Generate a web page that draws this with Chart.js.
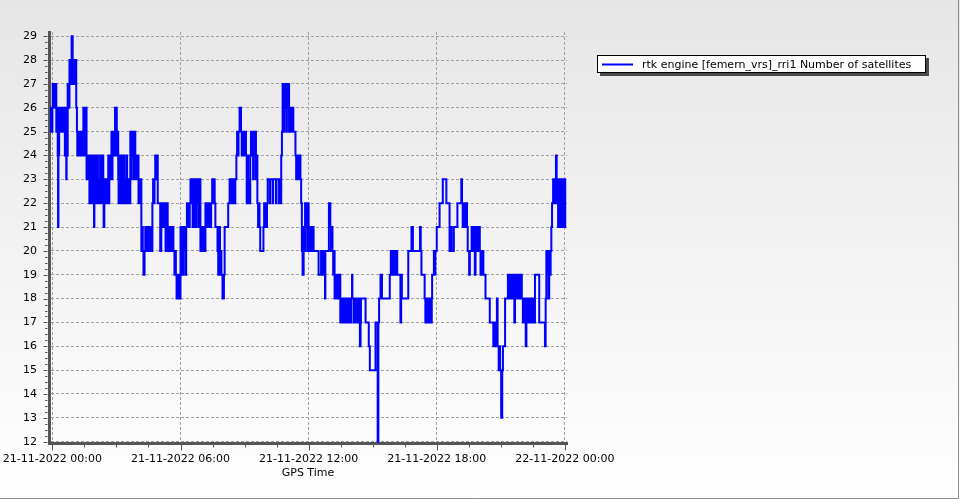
<!DOCTYPE html>
<html>
<head>
<meta charset="utf-8">
<script src="https://cdn.jsdelivr.net/npm/chart.js@4.4.0/dist/chart.umd.min.js"></script>
<style>
  html, body { margin: 0; padding: 0; background: #fff; }
  #wrap { width: 960px; height: 500px; }
</style>
</head>
<body>
<div id="wrap"><canvas id="graficoSatelites" width="960" height="500"></canvas></div>
<script>
const seriesLabel = 'rtk engine [femern_vrs]_rri1 Number of satellites';
const axisTitle = 'GPS Time';

// minutes from 21-11-2022 00:00
const xTickMinutes = [0, 360, 720, 1080, 1440];
const xTickLabels = ['21-11-2022 00:00', '21-11-2022 06:00', '21-11-2022 12:00', '21-11-2022 18:00', '22-11-2022 00:00'];
const yTicks = [12, 13, 14, 15, 16, 17, 18, 19, 20, 21, 22, 23, 24, 25, 26, 27, 28, 29];

// change points: minute of the change / satellites from then on
const gpsMinute = [
  -6, -4, -2, 0, 1, 3, 5, 7, 9, 11, 13, 14, 15, 16, 17, 19,
  21, 23, 25, 27, 29, 31, 33, 34, 35, 37, 38, 39, 40, 42,
  43, 44, 46, 47, 48, 49, 51, 52, 54, 57, 58, 60, 62, 64, 66, 67, 69,
  70, 72, 74, 76, 78, 80, 82, 84, 86, 87, 89, 90, 92, 94,
  96, 98, 99, 101, 103, 104, 106, 107, 109, 110, 112, 113, 115, 116, 117, 118,
  119, 121, 123, 125, 126, 128, 130, 132, 134, 136, 137, 139, 141, 143, 144, 146,
  148, 150, 152, 154, 156, 157, 159, 160, 162, 164, 166, 168, 169, 171, 172,
  174, 176, 178, 179, 181, 183, 185, 186, 188, 190, 192, 194,
  196, 198, 200, 202, 204, 206, 208, 210, 212, 214, 216, 218,
  219, 221, 223, 225, 227, 229, 231, 233, 234, 236, 238, 240, 242, 244, 246, 248,
  250, 252, 254, 256, 259, 261, 263, 265, 267, 269, 271, 273, 275, 277, 279,
  281, 283, 285, 287, 289, 292, 294, 296, 303,
  306, 308, 310, 312, 314, 316, 318, 320, 322,
  324, 326, 328, 330, 332, 334, 336, 338, 340, 343, 345, 347,
  349, 351, 353, 355, 357, 360, 362, 364, 366, 368, 370, 372, 374, 376,
  378, 380, 382, 384, 386, 388, 390, 392, 394, 396,
  398, 400, 402, 404, 406, 408, 410, 412, 414,
  416, 418, 420, 422, 424, 426, 428, 430, 432, 434,
  436, 438, 440, 442, 444, 446, 449, 451, 453, 456, 458,
  464, 466, 468, 469, 471, 473, 475, 478, 482, 484, 494,
  498, 500, 502, 504, 506, 508, 510, 512, 514,
  517, 519, 521, 523, 526, 530, 532, 534, 536, 538, 540, 542, 544,
  546, 548, 550, 552, 554, 556, 558, 560, 562, 564, 566, 568, 570, 572, 574,
  576, 578, 580, 582, 584, 593, 595, 597, 599, 601, 603,
  605, 611, 612, 619, 620, 628, 629, 636, 637, 642, 643, 645,
  647, 649, 651, 653, 655, 657, 659, 661, 663, 665, 667, 669, 671, 673, 675, 677,
  683, 685, 687, 689, 691, 693, 695, 697, 699, 701, 703, 706, 708,
  710, 712, 714, 716, 718, 720, 722, 725, 726, 729, 730, 733, 734,
  748, 755, 757, 761, 763, 766, 767, 777, 781, 783, 785, 787,
  789, 791, 793, 795, 797, 799, 801, 803, 805, 807,
  809, 811, 813, 815, 817, 819, 821, 823, 825, 827, 829, 831, 833, 835, 837, 839, 842, 843,
  846, 848, 850, 852, 854, 856, 858, 860, 862, 864, 866, 867, 880, 889, 892, 908, 914, 916, 918,
  922, 926, 948, 951, 953, 955, 957, 959, 961, 963, 965, 967, 969, 978, 980, 982,
  1000, 1009, 1013, 1033, 1035, 1037,
  1046, 1048, 1050, 1052, 1054, 1056, 1058, 1060, 1062, 1064, 1066, 1067,
  1072, 1074, 1076, 1080, 1088, 1097, 1107, 1116, 1120, 1122, 1128, 1138,
  1149, 1151, 1153, 1155, 1157, 1159, 1161, 1163, 1165, 1167, 1171, 1173,
  1178, 1181, 1183, 1187, 1189, 1192, 1194, 1197, 1199, 1201,
  1203, 1205, 1207, 1209, 1211, 1217, 1229,
  1239, 1241, 1243, 1245, 1247, 1249, 1251, 1254, 1256, 1258, 1261, 1264, 1266, 1272,
  1280, 1283, 1285, 1288, 1290, 1293, 1295, 1298, 1300, 1303, 1305, 1308, 1310, 1313, 1316, 1319,
  1322, 1325, 1327, 1330, 1332, 1335, 1338, 1341, 1344, 1347, 1350, 1353,
  1356, 1368, 1384, 1386, 1388, 1390, 1392, 1394, 1396, 1398, 1400,
  1402, 1404, 1407, 1409, 1412, 1415, 1417, 1419, 1421, 1423, 1425, 1427, 1429, 1431, 1433, 1435, 1437, 1439, 1441, 1443
];
const satellites = [
  25, 26, 25, 26, 27, 26, 27, 26, 27, 25, 26, 25, 24, 21, 24, 26,
  25, 26, 25, 26, 25, 26, 25, 26, 24, 26, 24, 23, 26, 24,
  27, 26, 27, 26, 28, 27, 28, 27, 29, 27, 28, 27, 28, 27, 28, 26, 25,
  24, 25, 24, 25, 24, 25, 24, 25, 24, 26, 24, 26, 24, 26,
  23, 24, 23, 24, 23, 22, 24, 22, 23, 22, 24, 22, 24, 22, 21, 23,
  24, 22, 24, 22, 24, 22, 23, 22, 24, 22, 24, 22, 24, 22, 21, 23,
  22, 23, 22, 23, 22, 24, 22, 24, 23, 24, 25, 23, 25, 24, 25,
  24, 26, 24, 26, 24, 25, 23, 22, 24, 22, 24, 22,
  24, 22, 24, 22, 23, 22, 24, 22, 23, 22, 23, 22,
  25, 23, 25, 24, 25, 23, 25, 24, 23, 24, 23, 24, 22, 23, 22, 23,
  20, 21, 20, 19, 20, 21, 20, 21, 20, 21, 20, 21, 20, 21, 20,
  22, 23, 22, 23, 24, 23, 24, 22, 20,
  21, 22, 21, 22, 21, 22, 20, 21, 22,
  20, 21, 20, 21, 20, 21, 20, 21, 20, 19, 20, 19,
  18, 19, 18, 19, 18, 21, 19, 21, 19, 21, 20, 21, 19, 21,
  22, 21, 22, 21, 22, 23, 22, 23, 21, 22,
  23, 21, 23, 21, 23, 22, 23, 21, 23,
  20, 21, 20, 21, 20, 21, 20, 22, 21, 22,
  21, 22, 21, 22, 21, 22, 23, 22, 23, 22, 21,
  20, 19, 20, 21, 19, 20, 19, 18, 19, 21, 22,
  23, 22, 23, 22, 23, 22, 23, 22, 23,
  24, 25, 24, 25, 26, 25, 24, 25, 24, 25, 24, 25, 24,
  22, 24, 22, 23, 22, 24, 25, 24, 25, 23, 25, 24, 25, 23, 24,
  22, 21, 22, 21, 20, 21, 22, 21, 22, 21, 22,
  23, 22, 23, 22, 23, 22, 23, 22, 23, 22, 24, 25,
  27, 25, 27, 26, 27, 25, 27, 26, 27, 25, 26, 25, 26, 25, 26, 25,
  24, 23, 24, 23, 24, 23, 24, 23, 22, 20, 19, 21, 20,
  22, 21, 22, 20, 22, 21, 20, 21, 20, 21, 20, 21, 20,
  19, 20, 19, 20, 19, 18, 20, 22, 21, 20, 21, 20,
  19, 20, 18, 19, 18, 19, 18, 19, 18, 19,
  17, 18, 17, 18, 17, 18, 17, 18, 17, 18, 17, 18, 17, 18, 17, 18, 19, 18,
  17, 18, 17, 18, 17, 18, 17, 18, 17, 16, 17, 18, 17, 16, 15, 17, 12, 17, 18,
  19, 18, 19, 20, 19, 20, 19, 20, 19, 20, 19, 20, 19, 17, 19, 18,
  20, 21, 20, 21, 20, 19,
  18, 17, 18, 17, 18, 17, 18, 17, 18, 17, 18, 19,
  20, 19, 20, 21, 22, 23, 22, 20, 21, 20, 21, 22,
  23, 22, 21, 22, 21, 22, 21, 22, 21, 20, 19, 20,
  21, 20, 21, 19, 21, 20, 21, 20, 21, 20,
  19, 20, 19, 20, 19, 18, 17,
  16, 17, 16, 17, 16, 18, 16, 15, 16, 15, 13, 15, 16, 18,
  19, 18, 19, 18, 19, 18, 19, 17, 19, 18, 19, 18, 19, 18, 19, 18,
  17, 18, 17, 16, 18, 17, 18, 17, 18, 17, 18, 17,
  19, 17, 16, 18, 20, 19, 20, 18, 20, 19, 20,
  21, 22, 23, 22, 23, 24, 22, 23, 21, 22, 23, 21, 22, 23, 21, 22, 23, 21, 23, 23
];

//fundo degradê + moldura
const fundo = {
  id: 'fundo',
  beforeDraw(chart) {
    const { ctx, width, height } = chart;
    const g = ctx.createLinearGradient(0, 0, 0, height);
    g.addColorStop(0, '#e6e6e6');
    g.addColorStop(1, '#ffffff');
    ctx.save();
    ctx.fillStyle = g;
    ctx.fillRect(0, 0, width, height);
    ctx.strokeStyle = '#8c8c8c';
    ctx.lineWidth = 1;
    ctx.beginPath();
    ctx.moveTo(0, height - 1.5);
    ctx.lineTo(width - 1.5, height - 1.5);
    ctx.lineTo(width - 1.5, 0);
    ctx.stroke();
    ctx.restore();
  }
};

//tracinhos dos eixos (maiores e menores)
const tracinhos = {
  id: 'tracinhos',
  afterDraw(chart) {
    const { ctx, chartArea } = chart;
    const sx = chart.scales.x, sy = chart.scales.y;
    ctx.save();
    ctx.strokeStyle = '#555';
    ctx.lineWidth = 1;
    ctx.beginPath();
    for (let m = xTickMinutes[0]; m <= xTickMinutes[xTickMinutes.length - 1]; m += 90) {
      const px = Math.round(sx.getPixelForValue(m)) + 0.5;
      const len = xTickMinutes.includes(m) ? 6 : 3;
      ctx.moveTo(px, chartArea.bottom + 1.5);
      ctx.lineTo(px, chartArea.bottom + 1.5 + len);
    }
    for (let v = yTicks[0]; v <= yTicks[yTicks.length - 1] + 0.01; v += 0.25) {
      const py = Math.round(sy.getPixelForValue(v)) + 0.5;
      const len = Number.isInteger(v) ? 4 : 2.5;
      ctx.moveTo(chartArea.left - 1.5, py);
      ctx.lineTo(chartArea.left - 1.5 - len, py);
    }
    ctx.stroke();
    ctx.restore();
  }
};

//legenda desenhada à mão
const legenda = {
  id: 'legenda',
  afterDraw(chart) {
    const { ctx } = chart;
    const ds = chart.data.datasets[0];
    const x = 597, y = 55, w = 329, h = 18;
    ctx.save();
    ctx.fillStyle = '#4a4a4a';
    ctx.fillRect(x + 3, y + 3, w, h);
    ctx.fillStyle = '#ffffff';
    ctx.fillRect(x, y, w, h);
    ctx.strokeStyle = '#000';
    ctx.lineWidth = 1;
    ctx.strokeRect(x + 0.5, y + 0.5, w - 1, h - 1);
    ctx.strokeStyle = ds.borderColor;
    ctx.lineWidth = 2;
    ctx.beginPath();
    ctx.moveTo(602, 64.5);
    ctx.lineTo(633, 64.5);
    ctx.stroke();
    ctx.fillStyle = '#000';
    ctx.font = '11px "DejaVu Sans"';
    ctx.textBaseline = 'alphabetic';
    ctx.fillText(ds.label, 642, 68);
    ctx.restore();
  }
};

Chart.defaults.font.family = '"DejaVu Sans", sans-serif';
Chart.defaults.font.size = 11;
Chart.defaults.color = '#000';

const ctx = document.getElementById('graficoSatelites').getContext('2d');
const chartSatelites = new Chart(ctx, {
  type: 'line',
  data: {
    datasets: [{
      label: seriesLabel,
      data: gpsMinute.map((m, i) => ({ x: m, y: satellites[i] })),
      borderColor: '#0000ff',
      borderWidth: 2,
      pointRadius: 0,
      stepped: true,
      fill: false
    }]
  },
  options: {
    responsive: false,
    animation: false,
    devicePixelRatio: 1,
    layout: { padding: { top: 32, right: 393, bottom: 0, left: 0 } },
    scales: {
      x: {
        type: 'linear',
        min: -9.5,
        max: 1446,
        afterFit: (s) => { s.height = 57; s.paddingLeft = 0; s.paddingRight = 0; },
        afterBuildTicks: (s) => { s.ticks = xTickMinutes.map(v => ({ value: v })); },
        grid: { color: '#a0a0a0', lineWidth: 1, drawTicks: false },
        border: { color: '#555', width: 3, dash: [3, 2] },
        ticks: {
          autoSkip: false,
          maxRotation: 0,
          minRotation: 0,
          padding: 10,
          color: '#000',
          callback: (value, index) => xTickLabels[index]
        },
        title: { display: true, text: axisTitle, color: '#000', padding: { top: 0, bottom: 20 } }
      },
      y: {
        type: 'linear',
        min: 11.945,
        max: 29.178,
        afterFit: (s) => { s.width = 49; },
        afterBuildTicks: (s) => { s.ticks = yTicks.map(v => ({ value: v })); },
        grid: { color: '#a0a0a0', lineWidth: 1, drawTicks: false },
        border: { color: '#555', width: 3, dash: [3, 2] },
        ticks: { padding: 12, color: '#000', callback: (value) => String(value) }
      }
    },
    plugins: {
      legend: { display: false },
      tooltip: { enabled: false }
    }
  },
  plugins: [fundo, tracinhos, legenda]
});
</script>
</body>
</html>
